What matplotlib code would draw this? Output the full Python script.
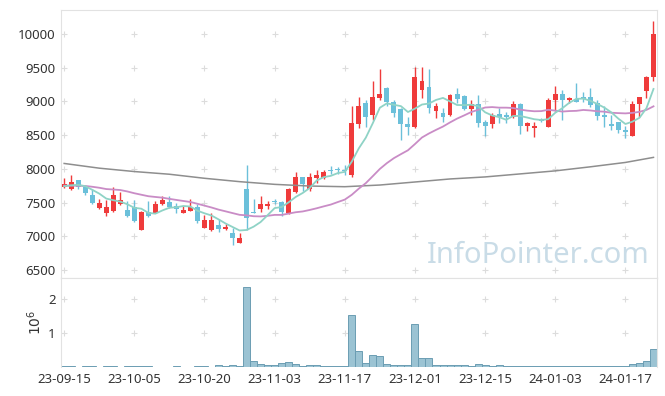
import matplotlib
matplotlib.use('Agg')
import matplotlib.pyplot as plt
import numpy as np
import pandas as pd

plt.rcParams['font.family'] = ['Noto Sans', 'DejaVu Sans']

# daily OHLC, 23-09-15 .. 24-01-23 (trading days)
open_ = [7730, 7700, 7840, 7735, 7610, 7414, 7350, 7380, 7480, 7390,
         7430, 7090, 7355, 7350, 7480, 7515, 7455, 7350, 7380, 7430,
         7130, 7090, 7165, 7105, 7055, 6905, 7700, 7365, 7405, 7455,
         7530, 7515, 7340, 7660, 7875, 7695, 7860, 7860, 7985, 8000,
         7980, 7910, 8665, 8970, 8800, 9045, 9195, 8995, 8885, 8665,
         8625, 9170, 9210, 8860, 8825, 8800, 9110, 9080, 8890, 8955,
         8700, 8665, 8810, 8800, 8765, 8960, 8635, 8610, 8720, 8625,
         9020, 9110, 9020, 9030, 9060, 9060, 8970, 8800, 8665, 8700,
         8575, 8490, 8955, 9160, 9355]
high = [7870, 7910, 7840, 7750, 7700, 7553, 7540, 7725, 7650, 7530,
        7540, 7380, 7530, 7525, 7600, 7590, 7490, 7455, 7560, 7480,
        7315, 7340, 7255, 7180, 7120, 7045, 8057, 7550, 7590, 7530,
        7555, 7530, 7710, 7960, 7885, 7945, 7990, 7985, 8040, 8030,
        8055, 8930, 9070, 9020, 9300, 9475, 9210, 9020, 8900, 8775,
        9505, 9505, 9475, 8970, 8900, 9110, 9195, 9095, 9020, 9095,
        8725, 8825, 8900, 8850, 9010, 8970, 8700, 8700, 8760, 9045,
        9225, 9165, 9070, 9280, 9145, 9195, 9020, 8935, 8800, 8700,
        8635, 9010, 9070, 9375, 10200]
low = [7710, 7690, 7700, 7610, 7480, 7400, 7300, 7365, 7460, 7290,
       7205, 7090, 7290, 7340, 7470, 7415, 7350, 7340, 7370, 7200,
       7125, 7080, 7070, 7095, 6870, 6895, 7090, 7340, 7355, 7405,
       7480, 7300, 7330, 7635, 7675, 7675, 7795, 7845, 7920, 7920,
       7910, 7885, 8600, 8625, 8725, 9020, 8930, 8765, 8430, 8500,
       8600, 9045, 8825, 8750, 8700, 8785, 8970, 8875, 8800, 8625,
       8490, 8600, 8680, 8685, 8750, 8520, 8560, 8470, 8700, 8620,
       8865, 8720, 8970, 8995, 8995, 8920, 8725, 8615, 8570, 8525,
       8460, 8490, 8765, 9045, 9300]
close = [7780, 7800, 7730, 7647, 7490, 7498, 7430, 7610, 7540, 7300,
         7230, 7365, 7300, 7480, 7540, 7430, 7405, 7390, 7440, 7230,
         7240, 7240, 7105, 7135, 6970, 6980, 7275, 7350, 7480, 7480,
         7505, 7355, 7700, 7875, 7775, 7875, 7910, 7950, 7970, 7980,
         7965, 8675, 8930, 8765, 9060, 9105, 8995, 8825, 8665, 8625,
         9355, 9300, 8900, 8930, 8775, 9095, 9035, 8890, 8960, 8675,
         8635, 8800, 8765, 8765, 8955, 8635, 8685, 8640, 8705, 9020,
         9110, 9020, 9045, 8995, 9040, 8945, 8785, 8775, 8640, 8575,
         8550, 8960, 9060, 9355, 10000]
volume = [20000, 20000, 3000, 20000, 20000, 3000, 20000, 20000, 3000, 20000,
          20000, 20000, 20000, 3000, 3000, 3000, 20000, 3000, 3000, 20000,
          20000, 3000, 70000, 15000, 50000, 15000, 2350000, 190000, 100000, 70000,
          50000, 130000, 160000, 100000, 30000, 50000, 50000, 20000, 20000, 40000,
          40000, 1520000, 460000, 130000, 340000, 310000, 100000, 70000, 70000, 70000,
          1250000, 250000, 250000, 70000, 70000, 70000, 50000, 50000, 20000, 100000,
          50000, 20000, 50000, 15000, 40000, 40000, 15000, 15000, 15000, 40000,
          40000, 40000, 15000, 40000, 15000, 15000, 15000, 15000, 15000, 15000,
          40000, 80000, 110000, 170000, 540000]

# closes before the first shown day (needed for the moving averages)
prior_close = [7800, 7760, 7700, 7730, 7790, 7820, 7750, 7690, 7720, 7760,
               7810, 7740, 7700, 7750, 7780, 7730, 7700, 7740, 7760]

# 120-day average at every 5th day
ma120_day = [0, 5, 10, 15, 20, 25, 30, 35, 40, 45, 50, 55, 60, 65, 70, 75, 80, 84]
ma120 = [8080, 8010, 7960, 7920, 7860, 7810, 7770, 7745, 7735, 7760,
         7805, 7850, 7880, 7925, 7970, 8030, 8095, 8170]

tick_labels = ['23-09-15', '23-10-05', '23-10-20', '23-11-03', '23-11-17',
               '23-12-01', '23-12-15', '24-01-03', '24-01-17']

n = len(close)
x = np.arange(n)
o = np.array(open_); c = np.array(close); h = np.array(high); l = np.array(low)

full_close = pd.Series(prior_close + close)
ma5 = full_close.rolling(5).mean().values[len(prior_close):]
ma20 = full_close.rolling(20).mean().values[len(prior_close):]

red, blue = '#ef3b3b', '#6bc0da'
colors = np.where(c >= o, red, blue)
gridc = '#dcdcdc'
xt = np.arange(0, n, 10)

fig = plt.figure(figsize=(6.65, 3.96), dpi=100)
ax = fig.add_axes([61/665, 1 - 278/396, 596/665, 268/396])
axv = fig.add_axes([61/665, 1 - 367/396, 596/665, 89/396], sharex=ax)

# candles
ax.vlines(x, l, h, color=colors, linewidth=1.0, zorder=2)
body = np.maximum(np.abs(c - o), 12)
ax.bar(x, body, bottom=np.minimum(o, c), width=0.7, color=colors, zorder=3)

ax.plot(ma120_day, ma120, color='#8e8e8e', linewidth=1.1, zorder=4)
ax.plot(x, ma20, color='#c98cc6', linewidth=1.3, zorder=4)
ax.plot(x, ma5, color='#8fd3c6', linewidth=1.3, zorder=4)

ax.text(67.6, 6722, 'InfoPointer.com', color='#c9dce7', fontsize=21,
        ha='center', va='center', zorder=1)

ax.set_xlim(-0.45, 84.5)
ax.set_ylim(6381, 10356)
yt = np.arange(6500, 10001, 500)
ax.set_yticks(yt)
ax.set_yticklabels([str(v) for v in yt])
gx, gy = np.meshgrid(xt, yt)
ax.scatter(gx.ravel(), gy.ravel(), marker='+', s=14, color=gridc, linewidths=0.8, zorder=0)

# volume
axv.bar(x, volume, width=1.0, color='#9bc3d3', edgecolor='#6b9db3', linewidth=0.7, zorder=2)
axv.set_ylim(0, 2.609e6)
axv.set_yticks([1e6, 2e6])
axv.set_yticklabels(['1', '2'])
vx, vy = np.meshgrid(xt, [1e6, 2e6])
axv.scatter(vx.ravel(), vy.ravel(), marker='+', s=14, color=gridc, linewidths=0.8, zorder=0)
fig.text(36/665, 1 - 322/396, r'$10^6$', rotation=90, ha='center', va='center',
         fontsize=10, color='#333333')

axv.set_xticks(xt)
axv.set_xticklabels(tick_labels)

for a in (ax, axv):
    for s in a.spines.values():
        s.set_color('#e2e2e2')
    a.tick_params(length=0, labelsize=9.5, colors='#333333', pad=4)
axv.spines['bottom'].set_visible(False)
ax.tick_params(axis='x', labelbottom=False)

fig.savefig('out.png', dpi=100)
